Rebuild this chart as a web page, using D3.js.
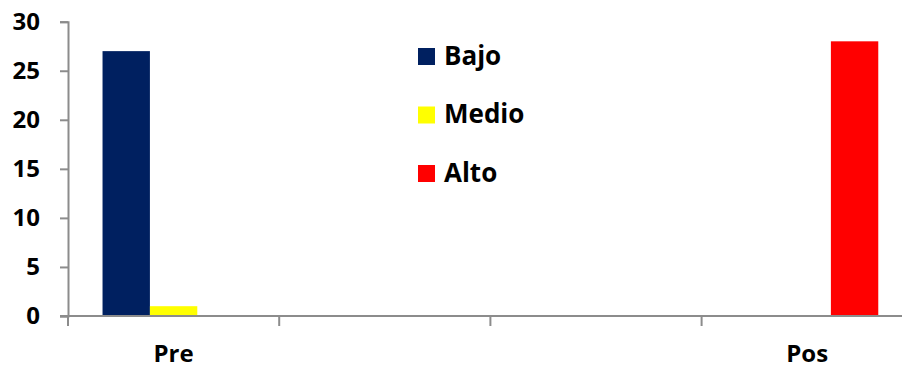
<!DOCTYPE html>
<html>
<head>
<meta charset="utf-8">
<script src="https://cdn.jsdelivr.net/npm/d3@7"></script>
<style>
  html, body { margin: 0; padding: 0; background: #fff; }
  svg { display: block; font-family: "Open Sans", "Liberation Sans", sans-serif; font-weight: 700; }
</style>
</head>
<body>
<svg id="chart" width="902" height="369"></svg>
<script>
// Categories along the x axis (the two middle slots are unlabeled)
const categories = ["Pre", "", "", "Pos"];
// Series names and colours
const seriesNames = ["Bajo", "Medio", "Alto"];
const seriesColors = ["#002060", "#FFFF00", "#FF0000"];
// Counts per category for each series
const bajo  = [27, 0, 0, 0];
const medio = [1, 0, 0, 0];
const alto  = [0, 0, 0, 28];
const yTicks = [0, 5, 10, 15, 20, 25, 30];

const seriesValues = [bajo, medio, alto];

const W = 902, H = 369;
const plot = { left: 68, right: 912.8, top: 21.7, bottom: 316 };
const svg = d3.select("#chart");

const x = d3.scaleBand()
  .domain(d3.range(categories.length))
  .range([plot.left, plot.right])
  .padding(0);

const bw = x.bandwidth();
const xs = d3.scaleBand()
  .domain(seriesNames)
  .range([bw * 0.1635, bw * 0.8365])
  .padding(0);

const y = d3.scaleLinear().domain([0, 30]).range([plot.bottom, plot.top]);

const axisColor = "#8c8c8c";

// Bars
const groups = svg.append("g")
  .selectAll("g")
  .data(categories.map((c, i) => i))
  .join("g")
  .attr("transform", i => `translate(${x(i)},0)`);

groups.selectAll("rect")
  .data(i => seriesNames.map((s, k) => ({ s, k, v: seriesValues[k][i] })))
  .join("rect")
  .attr("x", d => xs(d.s))
  .attr("width", xs.bandwidth())
  .attr("y", d => y(d.v))
  .attr("height", d => y(0) - y(d.v))
  .attr("fill", d => seriesColors[d.k]);

// Y axis
const yAxis = svg.append("g")
  .attr("transform", `translate(${plot.left},0)`)
  .call(d3.axisLeft(y).tickValues(yTicks).tickSize(8).tickSizeOuter(8).tickPadding(20));
yAxis.select(".domain").attr("stroke", axisColor).attr("stroke-width", 2);
yAxis.selectAll(".tick line").attr("stroke", axisColor).attr("stroke-width", 2);
yAxis.selectAll(".tick text")
  .attr("fill", "#000")
  .style("font-size", "24px")
  .style("font-weight", 700)
  .style("font-family", "'Open Sans', sans-serif");

// X axis line with tick marks at category boundaries
const xAxis = svg.append("g");
xAxis.append("line")
  .attr("x1", plot.left - 8).attr("x2", W)
  .attr("y1", y(0)).attr("y2", y(0))
  .attr("stroke", axisColor).attr("stroke-width", 2);
xAxis.selectAll("line.bound")
  .data(d3.range(categories.length + 1))
  .join("line")
  .attr("class", "bound")
  .attr("x1", i => plot.left + i * bw).attr("x2", i => plot.left + i * bw)
  .attr("y1", y(0)).attr("y2", y(0) + 10)
  .attr("stroke", axisColor).attr("stroke-width", 2);
xAxis.selectAll("text")
  .data(categories.map((c, i) => i))
  .join("text")
  .attr("x", i => x(i) + bw / 2)
  .attr("y", 362)
  .attr("text-anchor", "middle")
  .style("font-size", "24px")
  .text(i => categories[i]);

// Legend
const legend = svg.append("g").attr("transform", "translate(418,48)");
const rows = legend.selectAll("g")
  .data(seriesNames)
  .join("g")
  .attr("transform", (d, i) => `translate(0,${i * 58.5})`);
rows.append("rect")
  .attr("width", 17).attr("height", 17)
  .attr("fill", (d, i) => seriesColors[i]);
rows.append("text")
  .attr("x", 26)
  .attr("y", 16.5)
  .style("font-size", "26px")
  .text(d => d);
</script>
</body>
</html>
